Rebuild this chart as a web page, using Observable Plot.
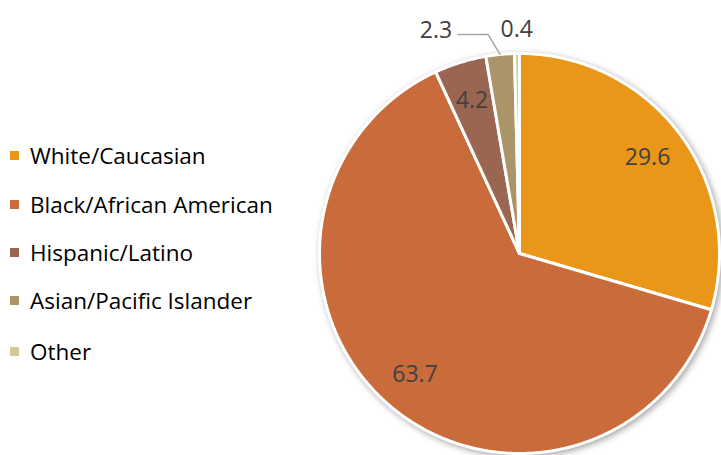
<!DOCTYPE html>
<html>
<head>
<meta charset="utf-8">
<script src="https://cdn.jsdelivr.net/npm/d3@7"></script>
<script src="https://cdn.jsdelivr.net/npm/@observablehq/plot@0.6"></script>
<style>
  html, body { margin: 0; padding: 0; background: #fff; }
  #wrap { position: relative; width: 721px; height: 455px; overflow: hidden; }
  #legend { position: absolute; left: 10px; top: 0; font-family: "Open Sans", Lato, sans-serif; font-size: 22.5px; color: #000; }
  .item { position: absolute; left: 0; white-space: nowrap; display: flex; align-items: center; height: 26px; }
  .sw { width: 9px; height: 9px; margin-right: 11px; }
</style>
</head>
<body>
<div id="wrap"><div id="legend"></div></div>
<script>
const categories = ["White/Caucasian", "Black/African American", "Hispanic/Latino", "Asian/Pacific Islander", "Other"];
const values = [29.6, 63.7, 4.2, 2.3, 0.4];
const labels = ["29.6", "63.7", "4.2", "2.3", "0.4"];
const colors = ["#E99619", "#C96B3B", "#9B6651", "#AA9468", "#D3CA95"];

const pie = d3.pie().sort(null).value(d => d.value)(categories.map((c, i) => ({cat: c, value: values[i], label: labels[i]})));

// polygon vertices for each slice (unit circle, y up, clockwise from 12 o'clock)
const pts = [];
pie.forEach(s => {
  const cat = s.data.cat;
  pts.push({cat, x: 0, y: 0});
  const n = Math.max(2, Math.ceil((s.endAngle - s.startAngle) / 0.005));
  for (let k = 0; k <= n; k++) {
    const a = s.startAngle + (s.endAngle - s.startAngle) * k / n;
    pts.push({cat, x: Math.sin(a), y: Math.cos(a)});
  }
  pts.push({cat, x: 0, y: 0});
});

// label positions from slice mid angles
const inside = [], outside = [], leader = [];
pie.forEach(s => {
  const a = (s.startAngle + s.endAngle) / 2;
  const share = s.data.value / d3.sum(values);
  if (share > 0.03) {
    inside.push({x: 0.8 * Math.sin(a), y: 0.8 * Math.cos(a), text: s.data.label});
  } else if (share > 0.01) {
    const r1 = 1.0, r2 = 1.1;
    leader.push({x: r1 * Math.sin(a), y: r1 * Math.cos(a)});
    leader.push({x: r2 * Math.sin(a) - 0.05, y: r2 * Math.cos(a)});
    leader.push({x: r2 * Math.sin(a) - 0.2, y: r2 * Math.cos(a)});
    outside.push({x: r2 * Math.sin(a) - 0.23, y: 1.12 * Math.cos(a), text: s.data.label, anchor: "end"});
  } else {
    outside.push({x: 1.12 * Math.sin(a), y: 1.12 * Math.cos(a), text: s.data.label, anchor: "middle"});
  }
});

const R = 200, cx = 519, cy = 253;
const chart = Plot.plot({
  width: 721,
  height: 455,
  margin: 0,
  x: {domain: [-1, 1], range: [cx - R, cx + R], axis: null},
  y: {domain: [-1, 1], range: [cy + R, cy - R], axis: null},
  color: {domain: categories, range: colors},
  style: {fontFamily: "'Open Sans', Lato, sans-serif", background: "transparent"},
  marks: [
    Plot.line(pts, {x: "x", y: "y", z: "cat", fill: "cat", stroke: "white", strokeWidth: 3, strokeLinejoin: "round"}),
    Plot.line(leader, {x: "x", y: "y", stroke: "#A6A6A6", strokeWidth: 1.5}),
    Plot.text(inside, {x: "x", y: "y", text: "text", fill: "#404040", fontSize: 23}),
    Plot.text(outside.filter(d => d.anchor === "end"), {x: "x", y: "y", text: "text", fill: "#404040", fontSize: 23, textAnchor: "end"}),
    Plot.text(outside.filter(d => d.anchor === "middle"), {x: "x", y: "y", text: "text", fill: "#404040", fontSize: 23})
  ]
});
const g = chart.querySelector('g[aria-label="line"]');
if (g) g.style.filter = "drop-shadow(2px 2px 3px rgba(0,0,0,0.35))";
document.getElementById("wrap").prepend(chart);

const legend = document.getElementById("legend");
const rowY = [155, 204, 252, 300, 351];
categories.forEach((c, i) => {
  const item = document.createElement("div");
  item.className = "item";
  item.style.top = (rowY[i] - 13) + "px";
  const sw = document.createElement("span");
  sw.className = "sw";
  sw.style.background = colors[i];
  item.appendChild(sw);
  item.appendChild(document.createTextNode(c));
  legend.appendChild(item);
});
</script>
</body>
</html>
